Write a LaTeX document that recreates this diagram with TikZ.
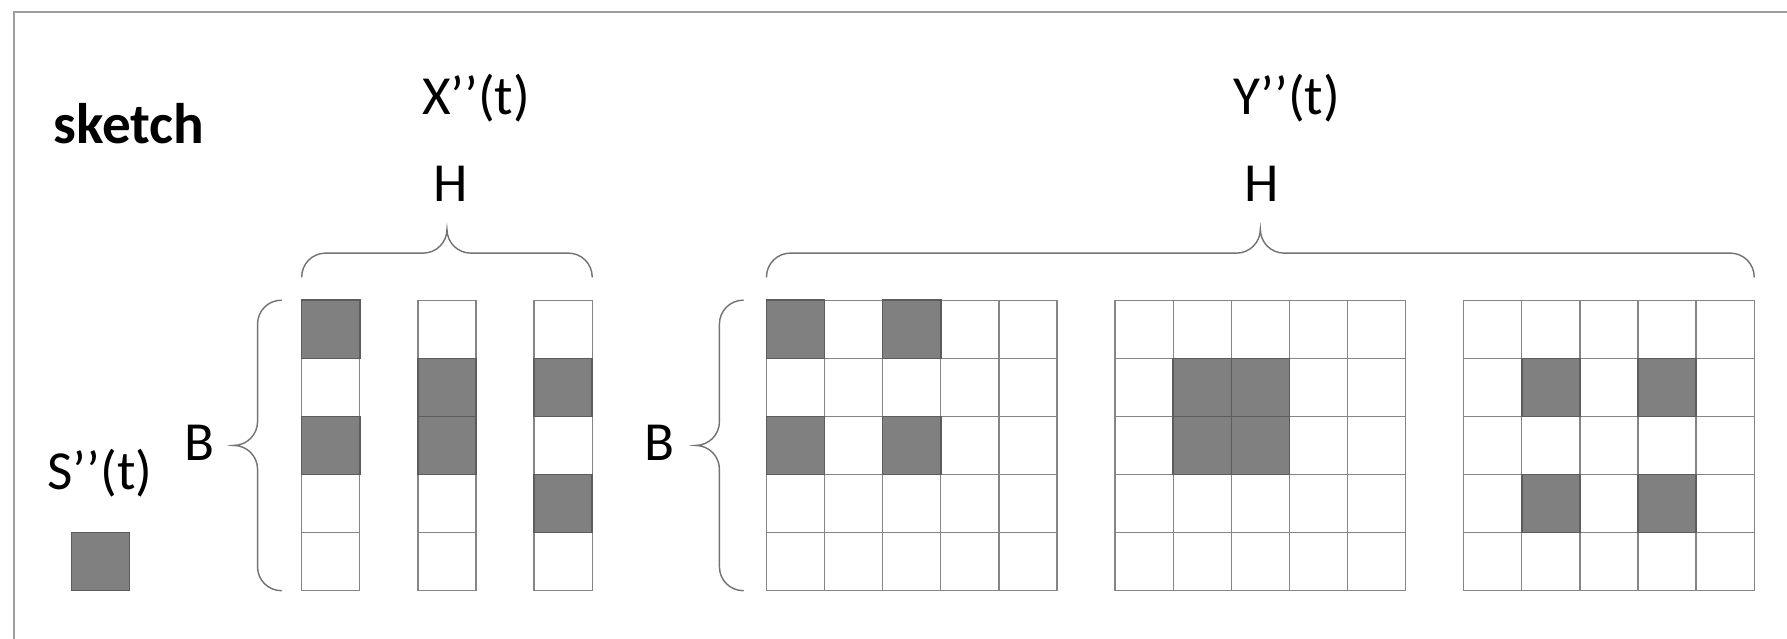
\documentclass[tikz,border=0pt]{standalone}
\usepackage{fontspec}
\setmainfont{Carlito}
\usetikzlibrary{calc}
\definecolor{SketchPaper}{gray}{1}
\definecolor{SketchFill}{gray}{0.5}
\definecolor{SketchEdge}{gray}{0.36}
\definecolor{SketchGrid}{gray}{0.52}
\definecolor{SketchBrace}{gray}{0.45}
\definecolor{SketchFrame}{gray}{0.62}
\tikzset{
    sketch/diagram/.style={
        line cap=butt,
        line join=miter,
        every node/.style={inner sep=0pt, outer sep=0pt}
    },
    sketch/frame/.style={draw=SketchFrame, line width=0.7pt},
    sketch/cell/.style={draw=SketchGrid, fill=SketchPaper, line width=0.65pt},
    sketch/hit/.style={draw=SketchEdge, fill=SketchFill, line width=0.7pt},
    sketch/brace/.style={draw=SketchBrace, line width=0.7pt, line cap=round},
    sketch/label/.style={anchor=base, font=\fontsize{27}{32}\selectfont},
    sketch/title/.style={anchor=base, font=\fontsize{28}{33}\selectfont\bfseries}
}

\begin{document}
\begin{tikzpicture}[sketch/diagram]
    \useasboundingbox (-5.193,-0.831) rectangle (25.565,10.167);
    \def\BraceR{0.41}
    % brace opening downwards, from x=#1 to x=#2, ends at height #3
    \def\TopBrace#1#2#3{
        (#1,#3) arc[start angle=180, end angle=90, radius=\BraceR]
        -- ({(#1+#2)/2-\BraceR},{#3+\BraceR})
        arc[start angle=270, end angle=360, radius=\BraceR]
        arc[start angle=180, end angle=270, radius=\BraceR]
        -- ({#2-\BraceR},{#3+\BraceR})
        arc[start angle=90, end angle=0, radius=\BraceR]
    }
    % brace opening rightwards, ends at x=#1, from y=#2 down to y=#3
    \def\LeftBrace#1#2#3{
        (#1,#2) arc[start angle=90, end angle=180, radius=\BraceR]
        -- ({#1-\BraceR},{(#2+#3)/2+\BraceR})
        arc[start angle=0, end angle=-90, radius=\BraceR]
        arc[start angle=90, end angle=0, radius=\BraceR]
        -- ({#1-\BraceR},{#3+\BraceR})
        arc[start angle=180, end angle=270, radius=\BraceR]
    }
    \draw[sketch/frame] (-4.95,-0.831) -- (-4.95,9.96) -- (25.565,9.96);

    % X''(t): three columns of B cells
    \foreach \c in {0,2,4}
        \foreach \r in {0,...,4}
            \draw[sketch/cell] (\c,\r) rectangle ++(1,1);
    \foreach \p in {{0,4},{0,2},{2,3},{2,2},{4,3},{4,1}}
        \draw[sketch/hit] (\p) rectangle ++(1,1);

    % Y''(t): three B x B blocks
    \foreach \g in {8,14,20}
        \draw[sketch/cell] (\g,0) rectangle (\g+5,5) (\g,0) grid (\g+5,5);
    \foreach \p in {{8,4},{10,4},{8,2},{10,2},
                    {15,3},{16,3},{15,2},{16,2},
                    {21,3},{23,3},{21,1},{23,1}}
        \draw[sketch/hit] (\p) rectangle ++(1,1);

    % S''(t)
    \draw[sketch/hit] (-3.96,0) rectangle ++(1,1);

    \draw[sketch/brace] \TopBrace{0}{5}{5.40};
    \draw[sketch/brace] \TopBrace{8}{25}{5.40};
    \draw[sketch/brace] \LeftBrace{-0.35}{5}{0};
    \draw[sketch/brace] \LeftBrace{7.60}{5}{0};

    \node[sketch/title] (title) at (-2.97,7.70) {sketch};
    \node[sketch/label] (xname) at (3.00,8.20) {X’’(t)};
    \node[sketch/label] (yname) at (16.95,8.20) {Y’’(t)};
    \node[sketch/label] (xh) at (2.56,6.70) {H};
    \node[sketch/label] (yh) at (16.52,6.70) {H};
    \node[sketch/label] (xb) at (-1.76,2.24) {B};
    \node[sketch/label] (yb) at (6.15,2.24) {B};
    \node[sketch/label] (sname) at (-3.47,1.75) {S’’(t)};
\end{tikzpicture}
\end{document}
